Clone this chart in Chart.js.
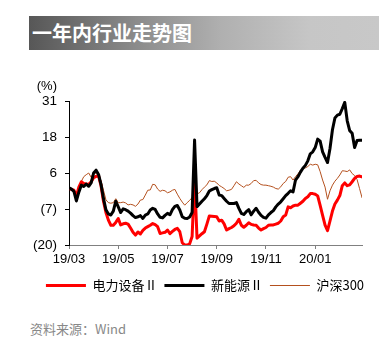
<!DOCTYPE html>
<html>
<head>
<meta charset="utf-8">
<script src="https://cdn.jsdelivr.net/npm/chart.js@4.4.1/dist/chart.umd.min.js"></script>
<style>
  html, body { margin: 0; padding: 0; background: #fff; }
  body { width: 387px; height: 359px; position: relative; overflow: hidden; }
  #banner {
    position: absolute; left: 29px; top: 16px; width: 350px; height: 34px;
    background: linear-gradient(to right, #575757 0%, #8a8a8a 30%, #b0b0b0 55%, #c6c6c6 80%, #c8c8c8 100%);
  }
  #banner span {
    position: absolute; left: 3px; top: 5px; color: #fff;
    font-family: "Noto Sans CJK SC", sans-serif; font-weight: 700; font-size: 20px; line-height: 24px;
  }
  #wrap { position: absolute; left: 0; top: 55px; width: 387px; height: 247px; }
  #source {
    position: absolute; left: 30px; top: 320px; color: #888;
    font-family: "Noto Sans CJK SC", "Liberation Sans", sans-serif; font-size: 13px; line-height: 18px;
  }
</style>
</head>
<body>
<div id="banner"><span>一年内行业走势图</span></div>
<div id="wrap"><canvas id="c"></canvas></div>
<div id="source">资料来源：Wind</div>
<script>
// observation index (0 = 2019/03 start, 20 per two months)
const obsIndex = Array.from({length: 120}, (_, i) => i);
// tick labels at index 0, 20, 40, 60, 80, 100
const tickLabels = ['19/03', '19/05', '19/07', '19/09', '19/11', '20/01'];
const seriesNames = ['电力设备Ⅱ', '新能源Ⅱ', '沪深300'];

const powerEquip = [
  0.0, -0.3, -0.6, -2.7, 0.5, 2.4, 1.8, 1.6, 1.4, 2.4,
  3.8, 4.3, 4.5, 1.0, -4.5, -8.5, -11.2, -13.0, -13.0, -12.0,
  -10.6, -12.9, -12.5, -12.3, -12.6, -14.0, -15.5, -16.5, -15.4, -16.1,
  -14.8, -14.0, -13.5, -13.0, -12.4, -12.8, -13.5, -15.9, -15.7, -15.5,
  -14.7, -16.0, -15.2, -14.5, -14.1, -15.3, -19.2, -20.0, -20.0, -19.6,
  -17.0, 3.7, -17.6, -16.8, -16.0, -15.3, -12.6, -9.7, -9.8, -9.9,
  -10.0, -11.5, -11.2, -12.5, -14.7, -14.2, -13.8, -13.2, -12.3, -10.9,
  -13.0, -13.7, -13.0, -12.1, -12.7, -12.9, -13.0, -14.0, -14.7, -14.2,
  -13.8, -13.0, -12.9, -12.9, -12.6, -12.3, -11.5, -10.0, -9.4, -6.5,
  -6.8, -6.2, -5.9, -5.9, -5.2, -4.5, -3.5, -2.9, -1.8, -1.8,
  -2.0, -2.6, -6.0, -9.5, -13.0, -14.9, -11.5, -8.0, -5.5, -4.1,
  -2.5, 1.0, 2.0, 1.0, 1.3, 2.4, 3.6, 4.3, 4.4, 4.1
];
const newEnergy = [
  0.3, -0.2, -1.0, -4.4, -1.3, 1.2, 0.7, 1.6, 0.8, 2.0,
  5.5, 6.5, 5.0, 1.5, -3.5, -7.5, -9.0, -9.4, -8.0, -4.5,
  -6.5, -8.5, -7.2, -7.5, -8.0, -8.7, -9.6, -10.3, -10.0, -9.6,
  -10.6, -9.4, -9.0, -7.6, -7.0, -7.4, -9.0, -10.2, -10.4, -9.5,
  -8.8, -9.3, -7.5, -6.3, -6.0, -7.6, -10.0, -10.5, -10.6, -10.1,
  -8.5, 17.2, -6.4, -5.5, -4.5, -3.6, -2.5, -0.9, -0.4, 0.0,
  0.3, -2.3, -2.5, -3.5, -4.5, -5.3, -5.3, -5.3, -5.0, -7.0,
  -8.8, -9.2, -8.2, -7.5, -9.3, -8.0, -7.0, -8.4, -9.5, -10.2,
  -10.5, -9.3, -8.5, -7.8, -6.5, -5.5, -4.7, -3.6, -2.5, -1.7,
  -0.8, -1.2, 3.0, 4.2, 5.8, 7.2, 8.2, 9.8, 12.3, 13.0,
  14.5, 17.5, 16.8, 13.0, 11.0, 9.2, 14.2, 20.8, 25.0, 26.0,
  26.3, 28.3, 30.5, 24.0, 20.5, 19.6, 14.5, 17.0, 17.1, 17.1
];
const hs300 = [
  0.4, -0.2, -1.0, -2.9, -0.5, 2.5, 4.2, 4.9, 5.5, 4.0,
  5.8, 5.3, 4.7, 2.8, -0.6, -4.0, -5.0, -5.2, -5.0, -3.6,
  -5.0, -5.0, -4.8, -5.1, -5.8, -5.6, -5.8, -6.3, -5.5, -4.1,
  -3.9, -2.3, -0.6, -0.5, 1.5, 1.3, -0.2, -1.0, -0.6, -0.8,
  -1.5, -1.2, -0.6, -0.3, -2.0, -3.5, -4.8, -5.9, -5.0, -4.2,
  -3.2, -1.8, -1.9, -1.5, -0.4, 0.5, 1.3, 2.8, 2.5, 2.6,
  2.0, 1.1, 0.6, 0.0, -0.8, -0.6, -0.3, 1.0, 2.4, 1.6,
  1.0, 0.4, 1.2, 1.2, 1.8, 2.8, 2.9, 2.0, 1.4, 1.2,
  1.2, 1.0, 0.8, 0.5, 0.0, -0.2, 0.6, 1.8, 2.5, 4.0,
  4.2, 3.0, 4.2, 5.2, 6.5, 7.1, 7.3, 7.8, 8.6, 8.3,
  8.6, 8.4, 6.0, 3.0, 0.5, -3.8, -0.8, 1.2, 2.6, 3.6,
  4.8, 6.3, 6.2, 6.0, 6.6, 5.3, 4.6, 3.2, 0.0, -3.2
];

const pctLabel = {
  id: 'pctLabel',
  afterLayout(chart) {
    // shift legend box to match the reference's centring
    const lg = chart.legend;
    if (lg) { lg.left += 24; lg.right += 24; }
  },
  afterDraw(chart) {
    const {ctx, chartArea} = chart;
    ctx.save();
    ctx.fillStyle = '#000';
    ctx.font = '13px "Liberation Sans", Arial, sans-serif';
    ctx.textAlign = 'right';
    ctx.textBaseline = 'middle';
    ctx.fillText('(%)', chartArea.left - 12, chartArea.top - 15);
    ctx.restore();
  }
};

new Chart(document.getElementById('c'), {
  type: 'line',
  data: {
    labels: obsIndex,
    datasets: [
      { label: seriesNames[0], data: powerEquip, borderColor: '#ff0000', backgroundColor: '#ff0000', borderWidth: 3, order: 2 },
      { label: seriesNames[1], data: newEnergy, borderColor: '#000000', backgroundColor: '#000000', borderWidth: 3, order: 1 },
      { label: seriesNames[2], data: hs300, borderColor: '#b4501e', backgroundColor: '#b4501e', borderWidth: 1, order: 3 }
    ]
  },
  options: {
    responsive: true,
    maintainAspectRatio: false,
    animation: false,
    events: [],
    elements: { point: { radius: 0 }, line: { tension: 0, borderJoinStyle: 'round', borderCapStyle: 'round' } },
    layout: { padding: { left: 0, right: 25, top: 46, bottom: 0 } },
    plugins: {
      tooltip: { enabled: false },
      legend: {
        position: 'bottom',
        labels: {
          usePointStyle: true,
          pointStyle: 'line',
          pointStyleWidth: 40,
          padding: 7,
          color: '#000',
          font: { family: '"Noto Sans CJK SC", "Liberation Sans", sans-serif', size: 13 },
          sort: (a, b) => a.datasetIndex - b.datasetIndex
        }
      }
    },
    scales: {
      x: {
        type: 'linear',
        min: 0,
        max: 119,
        afterFit(scale) { scale.height = 27; },
        border: { display: true, color: '#808080', width: 1 },
        grid: { drawOnChartArea: false, drawTicks: true, tickLength: 4, color: '#808080' },
        ticks: {
          stepSize: 20,
          includeBounds: false,
          autoSkip: false,
          maxRotation: 0,
          padding: 3,
          color: '#000',
          font: { family: '"Liberation Sans", Arial, sans-serif', size: 13 },
          callback: (v) => (v % 20 === 0 && tickLabels[v / 20] !== undefined) ? tickLabels[v / 20] : ''
        }
      },
      y: {
        min: -20,
        max: 31,
        afterFit(scale) { scale.width = 69; },
        border: { display: true, color: '#000', width: 1 },
        grid: { drawOnChartArea: false, drawTicks: true, tickLength: 4, color: '#000' },
        ticks: {
          stepSize: 12.75,
          padding: 8,
          color: '#000',
          font: { family: '"Liberation Sans", Arial, sans-serif', size: 13.5 },
          callback: (v) => { const r = Math.round(v); return r < 0 ? '(' + Math.abs(r) + ')' : String(r); }
        }
      }
    }
  },
  plugins: [pctLabel]
});
</script>
</body>
</html>
